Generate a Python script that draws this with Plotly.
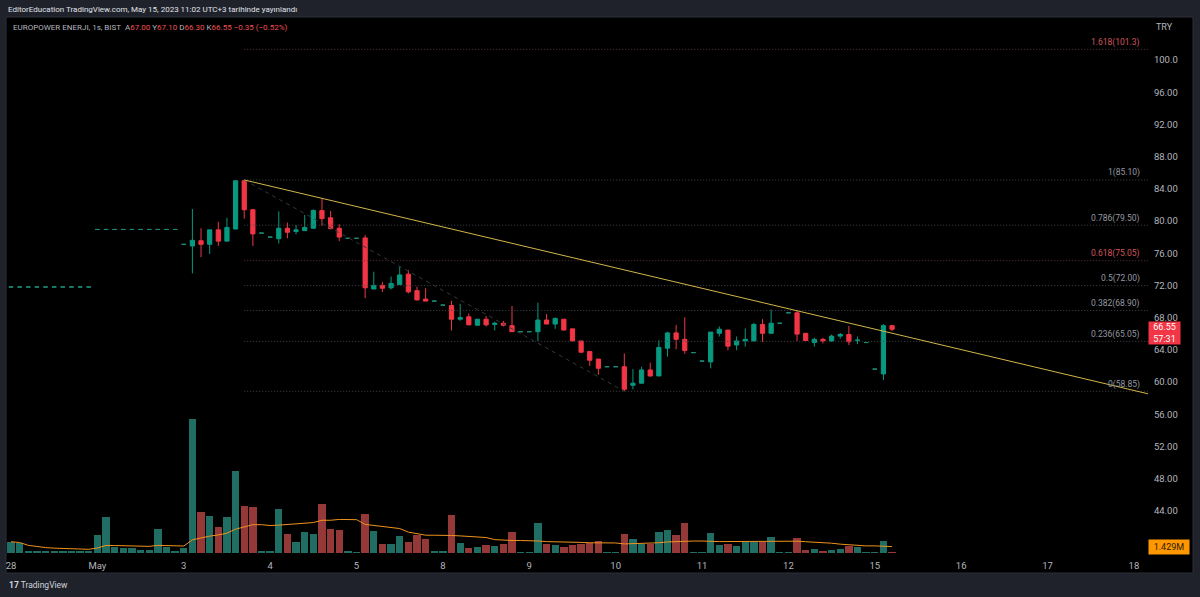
import plotly.graph_objects as go
import pandas as pd

# ---------------- DATA ----------------
day_labels = ["28", "May", "3", "4", "5", "8", "9", "10", "11", "12", "15", "16", "17", "18"]
day_start_bar = [0, 10, 20, 30, 40, 50, 60, 70, 80, 90, 100, 110, 120, 130]

opens = [71.80, 71.80, 71.80, 71.80, 71.80, 71.80, 71.80, 71.80, 71.80, 71.80,
         78.95, 78.95, 78.95, 78.95, 78.95, 78.95, 78.95, 78.95, 78.95, 78.95,
         77.10, 76.90, 77.55, 77.10, 78.90, 77.50, 79.00, 85.00, 81.40, 78.50,
         78.00, 77.80, 79.10, 78.70, 78.80, 79.10, 81.30, 80.40, 79.10, 77.85,
         77.85, 77.90, 71.55, 72.00, 71.70, 72.10, 73.40, 71.35, 70.30, 70.05,
         69.55, 69.50, 67.80, 68.10, 67.05, 67.80, 67.15, 67.30, 67.00, 66.25,
         66.25, 66.25, 67.70, 67.20, 67.80, 66.60, 65.10, 63.80, 62.85, 61.90,
         61.90, 61.90, 59.60, 59.85, 61.50, 60.75, 64.20, 66.10, 65.30, 63.65,
         62.60, 62.50, 66.05, 66.45, 64.60, 65.10, 65.10, 67.15, 66.05, 67.30,
         68.60, 68.60, 66.05, 64.90, 65.30, 65.10, 65.70, 65.90, 65.15, 64.90,
         61.60, 61.00, 67.00]
highs = [71.80, 71.80, 71.80, 71.80, 71.80, 71.80, 71.80, 71.80, 71.80, 71.80,
         78.95, 78.95, 78.95, 78.95, 78.95, 78.95, 78.95, 78.95, 78.95, 78.95,
         77.10, 81.50, 79.10, 78.90, 79.90, 80.40, 85.00, 85.10, 81.50, 78.50,
         78.00, 81.20, 79.80, 79.50, 80.75, 81.45, 82.80, 81.25, 79.60, 77.85,
         77.85, 78.25, 73.70, 72.40, 73.10, 74.30, 73.90, 71.85, 71.65, 70.05,
         69.55, 70.10, 69.70, 68.50, 67.80, 68.20, 67.50, 67.60, 69.45, 66.25,
         66.25, 69.85, 68.45, 68.00, 67.80, 66.60, 65.10, 63.80, 62.85, 61.90,
         61.90, 63.55, 61.60, 61.90, 62.40, 65.20, 66.25, 67.10, 68.05, 63.65,
         62.60, 66.20, 66.90, 66.45, 65.65, 66.65, 67.35, 67.80, 69.00, 67.30,
         68.60, 68.85, 66.05, 65.50, 65.50, 65.90, 66.10, 66.95, 65.65, 64.90,
         61.60, 67.20, 67.10]
lows = [71.80, 71.80, 71.80, 71.80, 71.80, 71.80, 71.80, 71.80, 71.80, 71.80,
        78.95, 78.95, 78.95, 78.95, 78.95, 78.95, 78.95, 78.95, 78.95, 78.95,
        77.10, 73.50, 75.50, 75.90, 76.90, 77.50, 79.00, 80.30, 76.90, 78.50,
        78.00, 77.20, 77.85, 78.35, 78.75, 79.05, 79.40, 78.95, 77.50, 77.85,
        77.85, 70.40, 71.55, 71.20, 71.50, 72.05, 71.00, 70.10, 70.05, 70.05,
        69.55, 66.40, 67.60, 67.05, 67.05, 66.90, 66.40, 66.90, 66.25, 66.25,
        66.25, 65.10, 67.20, 66.60, 66.45, 65.10, 63.65, 62.00, 60.90, 61.90,
        61.90, 58.85, 59.10, 59.85, 60.65, 60.75, 63.15, 64.05, 63.50, 63.65,
        62.60, 61.70, 65.65, 63.95, 63.95, 64.40, 65.10, 65.00, 66.05, 67.30,
        68.60, 65.10, 65.15, 64.40, 64.80, 65.00, 65.40, 64.60, 64.70, 64.90,
        61.60, 60.25, 66.30]
closes = [71.80, 71.80, 71.80, 71.80, 71.80, 71.80, 71.80, 71.80, 71.80, 71.80,
          78.95, 78.95, 78.95, 78.95, 78.95, 78.95, 78.95, 78.95, 78.95, 78.95,
          77.10, 77.60, 77.10, 78.90, 77.50, 79.20, 85.00, 81.40, 78.40, 78.50,
          78.00, 79.10, 78.60, 78.90, 79.20, 81.30, 80.30, 79.05, 78.00, 77.85,
          77.85, 71.70, 72.00, 71.65, 72.25, 73.30, 71.20, 70.20, 70.05, 70.05,
          69.55, 67.80, 68.00, 67.10, 67.80, 67.10, 67.30, 67.05, 66.25, 66.25,
          66.25, 67.70, 67.20, 67.90, 66.45, 65.10, 63.70, 62.70, 61.70, 61.90,
          61.90, 59.10, 59.85, 61.50, 60.75, 64.30, 66.10, 65.30, 63.90, 63.65,
          62.60, 66.20, 66.55, 64.45, 65.10, 65.30, 67.15, 66.05, 67.30, 67.30,
          68.60, 65.95, 65.15, 65.30, 65.10, 65.70, 65.90, 65.00, 65.20, 64.90,
          61.60, 67.00, 66.55]
volumes_m = [2.52, 2.16, 0.45, 0.45, 0.45, 0.45, 0.45, 0.45, 0.45, 0.45,
             4.01, 7.96, 1.40, 1.18, 1.05, 0.67, 0.67, 5.35, 1.40, 0.51,
             1.18, 29.82, 9.14, 8.25, 5.86, 8.09, 18.35, 10.55, 10.32, 0.51,
             0.29, 9.75, 4.24, 2.52, 4.75, 4.17, 10.99, 5.35, 5.06, 0.45,
             0.22, 8.70, 4.91, 2.01, 2.01, 3.86, 2.52, 4.01, 3.06, 0.45,
             0.45, 8.47, 2.30, 1.05, 1.40, 1.78, 1.56, 2.01, 4.62, 0.22,
             0.22, 6.76, 2.01, 1.72, 1.40, 1.78, 2.01, 2.30, 2.74, 0.22,
             0.22, 4.17, 3.12, 2.01, 1.94, 4.68, 5.13, 4.01, 6.76, 0.22,
             0.22, 4.39, 1.72, 2.01, 1.49, 2.52, 2.52, 2.52, 3.57, 0.22,
             0.22, 3.41, 0.74, 0.89, 0.51, 0.67, 0.83, 1.63, 1.40, 0.22,
             0.22, 2.74, 0.22]
vol_ma_length = 20

# drawings (bar index, price)
trend_anchor_bars = [27, 91]
trend_anchor_prices = [85.10, 68.85]
fib_high = (27, 85.10)
fib_low = (71, 58.85)
fib_ratios = [1.618, 1.0, 0.786, 0.618, 0.5, 0.382, 0.236, 0.0]
fib_labels = ["1.618(101.3)", "1(85.10)", "0.786(79.50)", "0.618(75.05)",
              "0.5(72.00)", "0.382(68.90)", "0.236(65.05)", "0(58.85)"]
fib_red = [True, False, False, True, False, False, False, False]

price_ticks = [44, 48, 52, 56, 60, 64, 68, 72, 76, 80, 84, 88, 92, 96, 100]
price_tick_text = ["44.00", "48.00", "52.00", "56.00", "60.00", "64.00", "68.00", "72.00",
                   "76.00", "80.00", "84.00", "88.00", "92.00", "96.00", "100.0"]
last_price_text = "66.55"
countdown_text = "57:31"
vol_label_text = "1.429M"

# ---------------- STYLE / GEOMETRY ----------------
W, H = 1200, 597
L, R, T, B = 7, 52, 18, 42
PW, PH = W - L - R, H - T - B
BAR_PX, BAR0_PX = 8.638, 11.0
x_range = [(L - BAR0_PX) / BAR_PX, (W - R - BAR0_PX) / BAR_PX]
PX_PER_PRICE = 8.05
price_range = [100 - (H - B - 60) / PX_PER_PRICE, 100 + (60 - T) / PX_PER_PRICE]
VOL_PER_PX = 0.223
vol_range = [-2 * VOL_PER_PX, (H - B - 2 - T) * VOL_PER_PX]

UP, DN = "#089981", "#f23645"
VOL_UP, VOL_DN = "#1f6d63", "#953838"
TXT = "#b2b5be"
FONT = "Roboto"


def pxx(px):
    return (px - L) / PW


def pxy(py):
    return 1 - (py - T) / PH


n = len(opens)
idx = list(range(n))
flat = [o == h == l == c for o, h, l, c in zip(opens, highs, lows, closes)]

fig = go.Figure()

# volume
vol_colors = [VOL_UP if c >= o else VOL_DN for o, c in zip(opens, closes)]
fig.add_trace(go.Bar(x=idx, y=volumes_m, marker_color=vol_colors, marker_line_width=0,
                     width=0.85, yaxis="y2", hoverinfo="skip"))
vol_ma = pd.Series(volumes_m).rolling(vol_ma_length, min_periods=1).mean()
fig.add_trace(go.Scatter(x=idx, y=vol_ma, mode="lines", line=dict(color="#f0921e", width=1),
                         yaxis="y2", hoverinfo="skip"))

# candles (real range)
ci = [i for i in idx if not flat[i]]
fig.add_trace(go.Candlestick(
    x=ci, open=[opens[i] for i in ci], high=[highs[i] for i in ci],
    low=[lows[i] for i in ci], close=[closes[i] for i in ci],
    increasing=dict(line=dict(color=UP, width=1), fillcolor=UP),
    decreasing=dict(line=dict(color=DN, width=1), fillcolor=DN),
    whiskerwidth=0, hoverinfo="skip"))
# flat (single-price) bars drawn as dashes
fi = [i for i in idx if flat[i]]
fig.add_trace(go.Candlestick(
    x=fi, open=[opens[i] for i in fi], high=[highs[i] for i in fi],
    low=[lows[i] for i in fi], close=[closes[i] for i in fi],
    increasing=dict(line=dict(color="#1b8a76", width=1), fillcolor="#1b8a76"),
    decreasing=dict(line=dict(color="#1b8a76", width=1), fillcolor="#1b8a76"),
    whiskerwidth=0, hoverinfo="skip"))

shapes = []
# panel background
shapes.append(dict(type="rect", xref="paper", yref="paper", x0=pxx(6), x1=pxx(1193),
                   y0=pxy(573), y1=pxy(17), fillcolor="#000000",
                   line=dict(color="#2a2e39", width=1), layer="below"))

# fib levels
rng = fib_high[1] - fib_low[1]
fib_prices = [fib_low[1] + r * rng for r in fib_ratios]
for p, red in zip(fib_prices, fib_red):
    shapes.append(dict(type="line", xref="x", yref="y", x0=fib_high[0], x1=x_range[1],
                       y0=p, y1=p, line=dict(color="#5e3539" if red else "#45474d",
                                             width=1, dash="1px,2px")))
# fib diagonal
shapes.append(dict(type="line", xref="x", yref="y", x0=fib_high[0], y0=fib_high[1],
                   x1=fib_low[0], y1=fib_low[1],
                   line=dict(color="#2f3a3a", width=1, dash="4px,4px")))
# trend line (extended right)
slope = (trend_anchor_prices[1] - trend_anchor_prices[0]) / (trend_anchor_bars[1] - trend_anchor_bars[0])
x_end = x_range[1]
shapes.append(dict(type="line", xref="x", yref="y", x0=trend_anchor_bars[0], y0=trend_anchor_prices[0],
                   x1=x_end, y1=trend_anchor_prices[0] + slope * (x_end - trend_anchor_bars[0]),
                   line=dict(color="#d2b54a", width=1)))

ann = []
for p, lab, red in zip(fib_prices, fib_labels, fib_red):
    ann.append(dict(xref="paper", yref="y", x=pxx(1142), y=p, yshift=7, text=lab,
                    showarrow=False, xanchor="right", yanchor="middle",
                    font=dict(family=FONT, size=8.5, color="#d0575c" if red else "#9598a1")))

# header
ann.append(dict(xref="paper", yref="paper", x=pxx(6), y=pxy(9),
                text="EditorEducation TradingView.com, May 15, 2023 11:02 UTC+3 tarihinde yayınlandı",
                showarrow=False, xanchor="left", yanchor="middle",
                font=dict(family=FONT, size=8, color="#e0e3eb")))
RD = "#ef4f55"
legend_txt = (f'<span style="color:{TXT}">EUROPOWER ENERJI, 1s, BIST&nbsp;&nbsp;</span>'
              f'<span style="color:{TXT}">A</span><span style="color:{RD}">{opens[-1]:.2f}</span>&nbsp;'
              f'<span style="color:{TXT}">Y</span><span style="color:{RD}">{highs[-1]:.2f}</span>&nbsp;'
              f'<span style="color:{TXT}">D</span><span style="color:{RD}">{lows[-1]:.2f}</span>&nbsp;'
              f'<span style="color:{TXT}">K</span><span style="color:{RD}">{closes[-1]:.2f}</span>&nbsp;'
              f'<span style="color:{RD}">−0.35 (−0.52%)</span>')
ann.append(dict(xref="paper", yref="paper", x=pxx(11), y=pxy(27), text=legend_txt,
                showarrow=False, xanchor="left", yanchor="middle",
                font=dict(family=FONT, size=8, color=TXT)))
ann.append(dict(xref="paper", yref="paper", x=pxx(1154), y=pxy(27), text="TRY",
                showarrow=False, xanchor="left", yanchor="middle",
                font=dict(family=FONT, size=9, color=TXT)))
# last price box
ann.append(dict(xref="paper", yref="y", x=pxx(1148), y=closes[-1], yshift=8,
                text=f"{last_price_text}<br>{countdown_text}", showarrow=False,
                xanchor="left", yanchor="top", align="center", width=31,
                bgcolor=DN, borderpad=0, font=dict(family=FONT, size=9, color="#ffffff")))
# volume MA box
ann.append(dict(xref="paper", yref="y2", x=pxx(1148), y=float(vol_ma.iloc[-1]),
                text=vol_label_text, showarrow=False, xanchor="left", yanchor="middle",
                width=36, bgcolor="#ff9800", borderpad=2,
                font=dict(family=FONT, size=9, color="#2a1a00")))
# footer logo
ann.append(dict(xref="paper", yref="paper", x=pxx(7), y=pxy(585),
                text="<b>17</b> TradingView", showarrow=False, xanchor="left", yanchor="middle",
                font=dict(family=FONT, size=8.5, color="#d1d4dc")))

fig.update_layout(
    width=W, height=H, margin=dict(l=L, r=R, t=T, b=B),
    paper_bgcolor="#1f222a", plot_bgcolor="#000000", showlegend=False,
    bargap=0, shapes=shapes, annotations=ann,
    xaxis=dict(range=x_range, tickvals=day_start_bar, ticktext=day_labels,
               showgrid=False, zeroline=False, showline=False, ticks="outside",
               ticklen=2, tickcolor="rgba(0,0,0,0)",
               tickfont=dict(family=FONT, size=9.5, color=TXT),
               rangeslider=dict(visible=False), fixedrange=True),
    yaxis=dict(range=price_range, side="right", tickvals=price_ticks, ticktext=price_tick_text,
               showgrid=False, zeroline=False, showline=False, ticks="outside", ticklen=3,
               tickcolor="rgba(0,0,0,0)", tickfont=dict(family=FONT, size=9.5, color=TXT)),
    yaxis2=dict(range=vol_range, overlaying="y", visible=False, showgrid=False, zeroline=False),
)

fig.write_html("out.html")
